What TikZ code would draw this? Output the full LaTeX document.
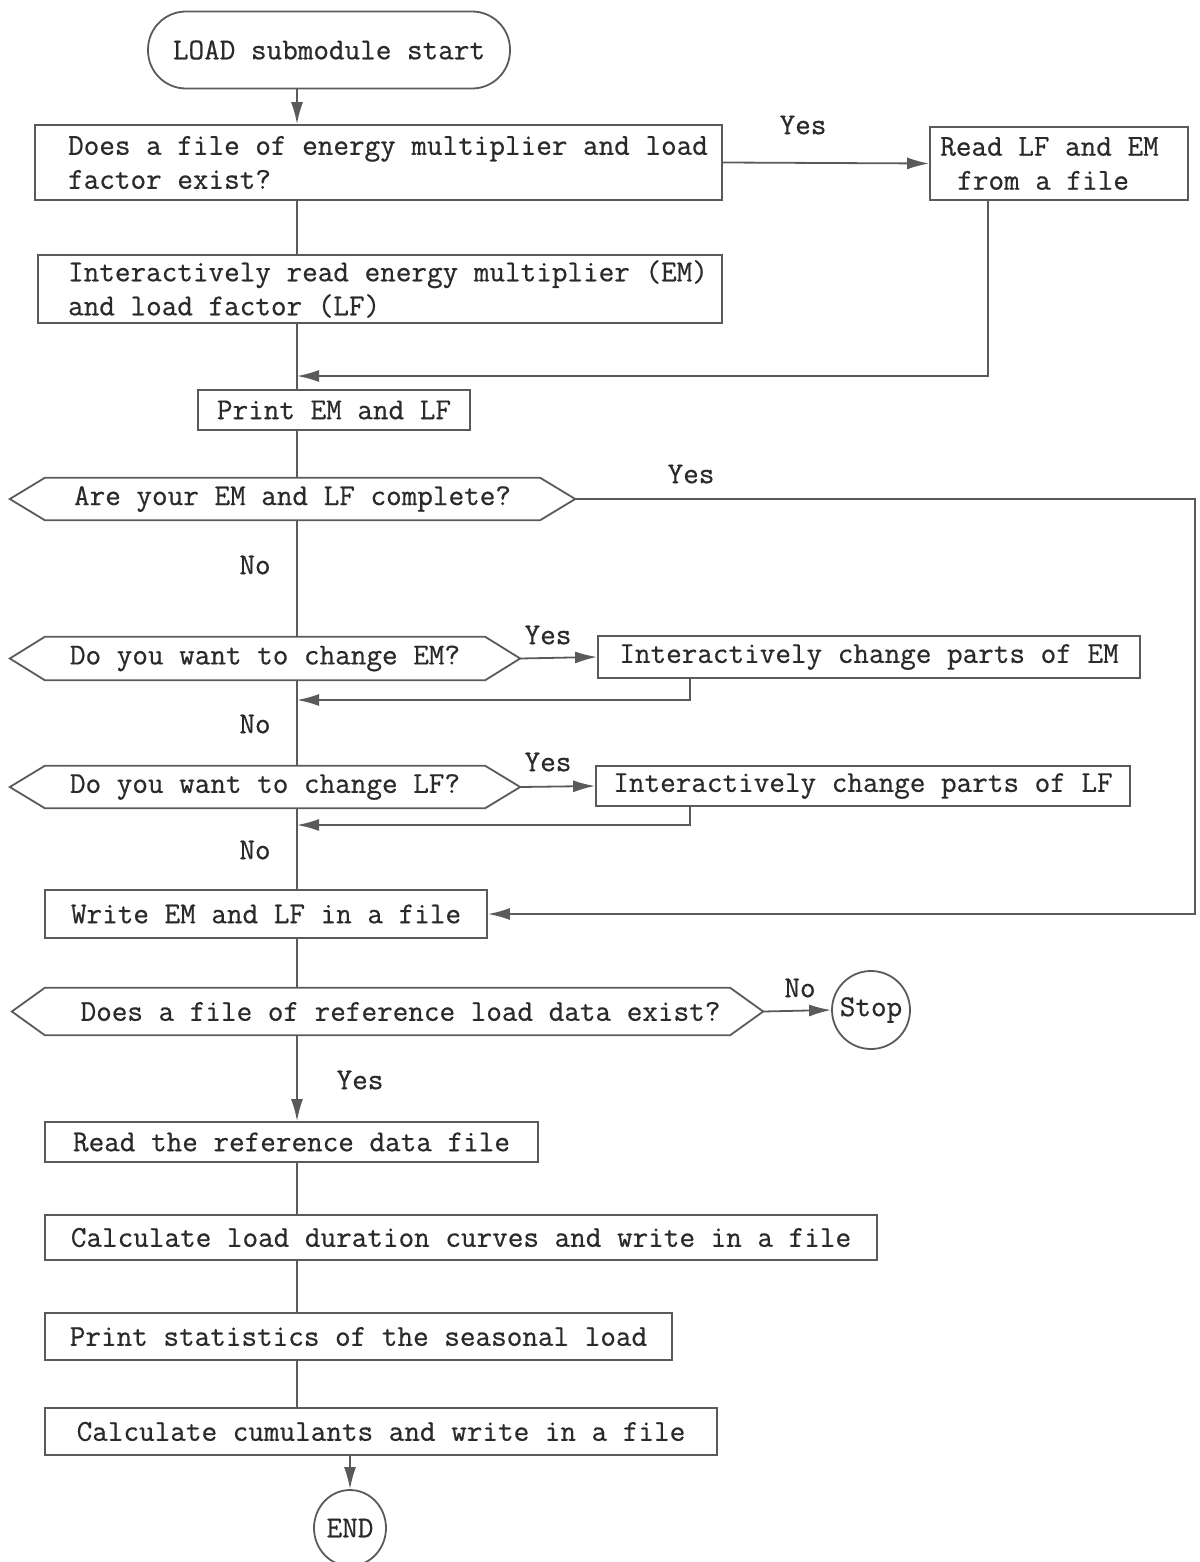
\documentclass[tikz,border=0pt]{standalone}
\usepackage{fontspec}
\newfontfamily\tw{Latin Modern Mono}[FakeBold=0.6]
\usetikzlibrary{arrows.meta,shapes.geometric}
\definecolor{linec}{HTML}{5A5A5A}
\definecolor{textc}{HTML}{2A2A2A}
\begin{document}
\begin{tikzpicture}[x=1pt,y=-1pt,
 every node/.style={font=\tw\fontsize{30.3}{34}\selectfont, text=textc},
 box/.style={draw=linec, line width=1.8pt, rectangle, inner sep=0pt},
 lbl/.style={inner sep=0pt},
 conn/.style={draw=linec, line width=1.8pt},
 arr/.style={conn, -{Latex[length=22pt,width=12pt]}},
 dec/.style={rectangle, inner sep=0pt},
 hexa/.style={draw=linec, line width=1.8pt, line join=miter}]
\useasboundingbox (0,0) rectangle (1199,1562);

% nodes
\node[box, minimum width=362pt, minimum height=77pt, rounded corners=38pt] (start) at (329,50) {LOAD submodule start};
\node[box, align=left, minimum width=687pt, minimum height=75pt] (b1) at (378.5,162.5) {\hspace*{19pt}Does a file of energy multiplier and load\\\hspace*{19pt}factor exist?};
\node[box, align=left, minimum width=258pt, minimum height=73pt] (rlf) at (1059,163.5) {Read LF and EM\hspace*{19pt}\\\hspace*{17pt}from a file};
\node[box, align=left, minimum width=684pt, minimum height=68pt] (b2) at (380,289) {\hspace*{16pt}Interactively read energy multiplier (EM)\\\hspace*{16pt}and load factor (LF)};
\node[box, minimum width=272pt, minimum height=40pt] (pr) at (334,410) {Print EM and LF};
\node[dec, minimum width=565pt, minimum height=42pt] (d1) at (292.5,499) {Are your EM and LF complete?};
\node[dec, minimum width=510pt, minimum height=43pt] (d2) at (265,658.5) {Do you want to change EM?};
\node[box, minimum width=542pt, minimum height=42pt] (em) at (869,657) {Interactively change parts of EM};
\node[dec, minimum width=510pt, minimum height=42pt] (d3) at (265,787) {Do you want to change LF?};
\node[box, minimum width=534pt, minimum height=40pt] (lf) at (863,786) {Interactively change parts of LF};
\node[box, minimum width=442pt, minimum height=48pt] (wr) at (266,914) {Write EM and LF in a file};
\node[dec, minimum width=751pt, minimum height=47pt] (d4) at (387.5,1011.5) {\hspace*{26pt}Does a file of reference load data exist?};
\node[draw=linec, line width=1.8pt, circle, minimum size=78pt, inner sep=0pt] (stop) at (871,1010) {Stop};
\node[box, minimum width=493pt, minimum height=40pt] (rr) at (291.5,1142) {Read the reference data file};
\node[box, minimum width=832pt, minimum height=45pt] (calc) at (461,1237.5) {Calculate load duration curves and write in a file};
\node[box, minimum width=627pt, minimum height=47pt] (st) at (358.5,1336.5) {Print statistics of the seasonal load};
\node[box, minimum width=672pt, minimum height=47pt] (cum) at (381,1431.5) {Calculate cumulants and write in a file};
\node[draw=linec, line width=1.8pt, ellipse, minimum width=72pt, minimum height=76pt, inner sep=0pt] (endn) at (350,1528) {END};

% decision outlines
\foreach \n/\t in {d1/35,d2/35,d3/35,d4/33} {
  \draw[hexa] (\n.west) -- ([xshift=\t pt]\n.north west) -- ([xshift=-\t pt]\n.north east) -- (\n.east) -- ([xshift=-\t pt]\n.south east) -- ([xshift=\t pt]\n.south west) -- cycle;
}

% labels
\node[lbl] (y1) at (803,125) {Yes};
\node[lbl] (y2) at (691,474) {Yes};
\node[lbl] (n1) at (255,565) {No};
\node[lbl] (y3) at (548,635) {Yes};
\node[lbl] (n2) at (255,724) {No};
\node[lbl] (y4) at (548,762) {Yes};
\node[lbl] (n3) at (255,850) {No};
\node[lbl] (n4) at (800,988) {No};
\node[lbl] (y5) at (360,1080) {Yes};

% helper coordinates
\coordinate (sp) at (297,0);
\coordinate (rx) at (988,0);
\coordinate (ex) at (690,0);
\coordinate (rr1) at (1195,0);
\coordinate (j1) at (297,376);
\coordinate (j2) at (297,700);
\coordinate (j3) at (297,825);

% connectors
\draw[arr] (start.south -| sp) -- (b1.north -| sp);
\draw[arr] (b1.east) -- (rlf.west);
\draw[conn] (b1.south -| sp) -- (b2.north -| sp);
\draw[conn] (b2.south -| sp) -- (pr.north -| sp);
\draw[arr] (rlf.south -| rx) |- (j1);
\draw[conn] (pr.south -| sp) -- (d1.north -| sp);
\draw[arr] (d1.east) -- (d1.east -| rr1) -- (wr.east -| rr1) -- (wr.east);
\draw[conn] (d1.south -| sp) -- (d2.north -| sp);
\draw[arr] (d2.east) -- (em.west);
\draw[arr] (em.south -| ex) |- (j2);
\draw[conn] (d2.south -| sp) -- (d3.north -| sp);
\draw[arr] (d3.east) -- (lf.west);
\draw[arr] (lf.south -| ex) |- (j3);
\draw[conn] (d3.south -| sp) -- (wr.north -| sp);
\draw[conn] (wr.south -| sp) -- (d4.north -| sp);
\draw[arr] (d4.east) -- (stop.west);
\draw[arr] (d4.south -| sp) -- (rr.north -| sp);
\draw[conn] (rr.south -| sp) -- (calc.north -| sp);
\draw[conn] (calc.south -| sp) -- (st.north -| sp);
\draw[conn] (st.south -| sp) -- (cum.north -| sp);
\draw[arr] (cum.south -| endn) -- (endn.north);
\end{tikzpicture}
\end{document}
